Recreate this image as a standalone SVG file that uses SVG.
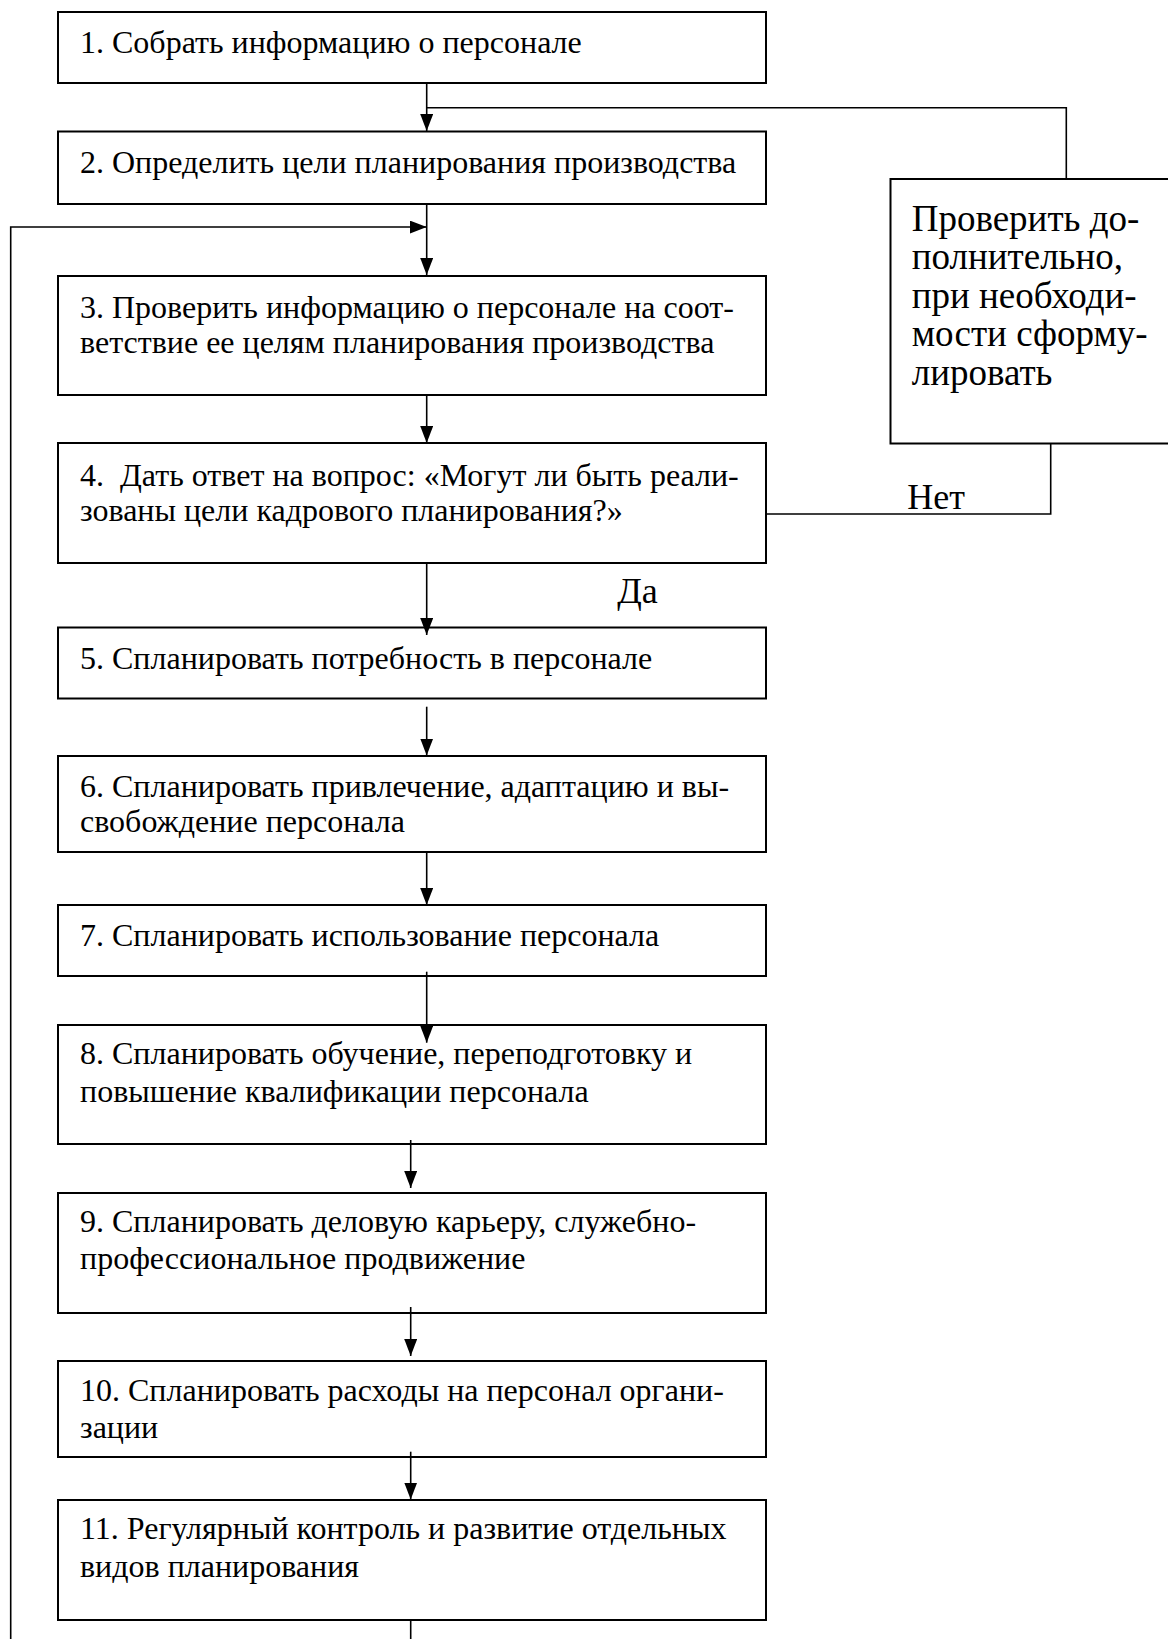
<svg xmlns="http://www.w3.org/2000/svg" width="1168" height="1639" viewBox="0 0 1168 1639">
  <style>
    .box { fill: #ffffff; stroke: #000000; stroke-width: 2; }
    .t { font-family: "Liberation Serif", "Times New Roman", serif; font-size: 32px; fill: #000000; }
    .ts { font-family: "Liberation Serif", "Times New Roman", serif; font-size: 37px; fill: #000000; }
    .tl { font-family: "Liberation Serif", "Times New Roman", serif; font-size: 36px; fill: #000000; }
    .c { fill: none; stroke: #000000; stroke-width: 1.6; }
  </style>
  <defs>
    <marker id="ah" markerUnits="userSpaceOnUse" markerWidth="17" markerHeight="13" refX="17" refY="6.5" orient="auto">
      <path d="M0,0 L17,6.5 L0,13 z" fill="#000000"/>
    </marker>
  </defs>
  <rect width="1168" height="1639" fill="#ffffff"/>

  <g id="n1">
    <rect class="box" x="58" y="12" width="708" height="71"/>
    <text class="t" x="80" y="53">1. Собрать информацию о персонале</text>
  </g>
  <g id="n2">
    <rect class="box" x="58" y="131.5" width="708" height="72.5"/>
    <text class="t" x="80" y="173">2. Определить цели планирования производства</text>
  </g>
  <g id="n3">
    <rect class="box" x="58" y="276" width="708" height="119"/>
    <text class="t" x="80" y="318">3. Проверить информацию о персонале на соот-</text>
    <text class="t" x="80" y="353">ветствие ее целям планирования производства</text>
  </g>
  <g id="n4">
    <rect class="box" x="58" y="443" width="708" height="120"/>
    <text class="t" x="80" y="486">4.&#160; Дать ответ на вопрос: «Могут ли быть реали-</text>
    <text class="t" x="80" y="521">зованы цели кадрового планирования?»</text>
  </g>
  <g id="n5">
    <rect class="box" x="58" y="627.5" width="708" height="71"/>
    <text class="t" x="80" y="669">5. Спланировать потребность в персонале</text>
  </g>
  <g id="n6">
    <rect class="box" x="58" y="756" width="708" height="96"/>
    <text class="t" x="80" y="797">6. Спланировать привлечение, адаптацию и вы-</text>
    <text class="t" x="80" y="832">свобождение персонала</text>
  </g>
  <g id="n7">
    <rect class="box" x="58" y="905" width="708" height="71"/>
    <text class="t" x="80" y="946">7. Спланировать использование персонала</text>
  </g>
  <g id="n8">
    <rect class="box" x="58" y="1025" width="708" height="119"/>
    <text class="t" x="80" y="1064">8. Спланировать обучение, переподготовку и</text>
    <text class="t" x="80" y="1102">повышение квалификации персонала</text>
  </g>
  <g id="n9">
    <rect class="box" x="58" y="1193" width="708" height="120"/>
    <text class="t" x="80" y="1232">9. Спланировать деловую карьеру, служебно-</text>
    <text class="t" x="80" y="1269">профессиональное продвижение</text>
  </g>
  <g id="n10">
    <rect class="box" x="58" y="1361" width="708" height="96"/>
    <text class="t" x="80" y="1401">10. Спланировать расходы на персонал органи-</text>
    <text class="t" x="80" y="1438">зации</text>
  </g>
  <g id="n11">
    <rect class="box" x="58" y="1500" width="708" height="120"/>
    <text class="t" x="80" y="1539">11. Регулярный контроль и развитие отдельных</text>
    <text class="t" x="80" y="1577">видов планирования</text>
  </g>
  <g id="side">
    <rect class="box" x="890.5" y="179" width="290" height="264.5"/>
    <text class="ts" x="911.7" y="230.5">Проверить до-</text>
    <text class="ts" x="911.7" y="269">полнительно,</text>
    <text class="ts" x="911.7" y="307.5">при необходи-</text>
    <text class="ts" x="911.7" y="346">мости сформу-</text>
    <text class="ts" x="911.7" y="384.5">лировать</text>
  </g>
  <g id="labels">
    <text class="tl" x="907.3" y="509">Нет</text>
    <text class="tl" x="617.3" y="603">Да</text>
  </g>

  <g id="connectors">
    <path class="c" d="M426.7,83 V131" marker-end="url(#ah)"/>
    <path class="c" d="M1066.3,179 V107.7 H426.7"/>
    <path class="c" d="M426.7,204 V275" marker-end="url(#ah)"/>
    <path class="c" d="M10.7,1639 V227 H426.7" marker-end="url(#ah)"/>
    <path class="c" d="M426.7,395 V443" marker-end="url(#ah)"/>
    <path class="c" d="M766,514 H1050.7 V443.5"/>
    <path class="c" d="M426.7,563 V635" marker-end="url(#ah)"/>
    <path class="c" d="M426.7,706.7 V755.5" marker-end="url(#ah)"/>
    <path class="c" d="M426.7,852 V905" marker-end="url(#ah)"/>
    <path class="c" d="M426.7,971.7 V1042.7" marker-end="url(#ah)"/>
    <path class="c" d="M410.7,1140 V1188" marker-end="url(#ah)"/>
    <path class="c" d="M410.7,1307 V1356" marker-end="url(#ah)"/>
    <path class="c" d="M410.7,1451.7 V1499.5" marker-end="url(#ah)"/>
    <path class="c" d="M410.7,1620 V1639"/>
  </g>
</svg>
